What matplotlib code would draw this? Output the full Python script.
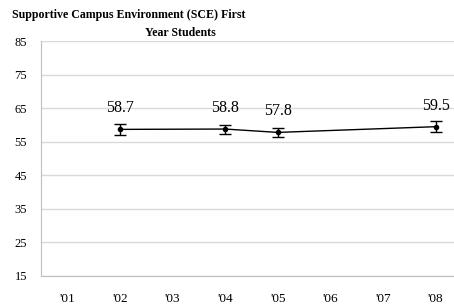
import numpy as np
import matplotlib
matplotlib.use("Agg")
import matplotlib.pyplot as plt

plt.rcParams.update({"font.family": ["Liberation Serif", "DejaVu Serif"]})

years = ["'01", "'02", "'03", "'04", "'05", "'06", "'07", "'08"]
score = [np.nan, 58.7, np.nan, 58.8, 57.8, np.nan, np.nan, 59.5]
err = [np.nan, 1.6, np.nan, 1.35, 1.4, np.nan, np.nan, 1.6]

fig = plt.figure(figsize=(4.54, 3.05), dpi=100)
ax = fig.add_axes([0.0903, 0.0951, 0.927, 0.770])

x = np.arange(len(years))
s = np.array(score); e = np.array(err)
m = ~np.isnan(s)
ax.errorbar(x[m], s[m], yerr=e[m], color="black", lw=1, marker="o", ms=3,
            capsize=4, elinewidth=1, capthick=1)
for xi, v in zip(x[m], s[m]):
    ax.text(xi, v + 6.3, f"{v:.1f}", ha="center", va="center", fontsize=11.5)

ax.set_xlim(-0.5, len(years) - 0.5)
ax.set_ylim(15, 85)
ax.set_yticks(range(15, 86, 10))
ax.set_xticks(x)
ax.set_xticklabels(years)
ax.tick_params(length=0, labelsize=9)
ax.tick_params(axis="x", pad=12, labelsize=9.5)
ax.tick_params(axis="y", pad=10)
ax.grid(axis="y", color="#d9d9d9", lw=1)
ax.set_axisbelow(True)
for sp in ["top", "right"]:
    ax.spines[sp].set_visible(False)
for sp in ["left", "bottom"]:
    ax.spines[sp].set_color("#bfbfbf")

fig.text(0.026, 0.952, "Supportive Campus Environment (SCE) First", fontsize=8.6,
         fontweight="bold", va="center", ha="left")
fig.text(0.397, 0.893, "Year Students", fontsize=8.6, fontweight="bold",
         va="center", ha="center")

fig.savefig("out.png", dpi=100)
